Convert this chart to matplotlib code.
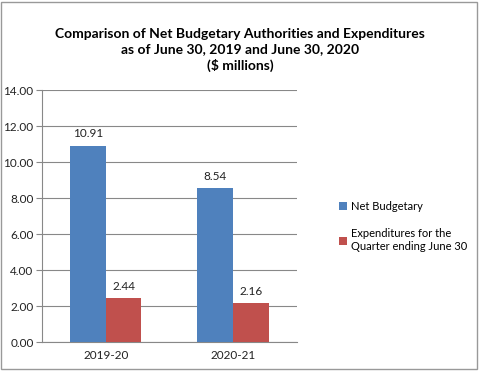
import numpy as np
import matplotlib.pyplot as plt

categories = ["2019-20", "2020-21"]
net_budgetary = [10.91, 8.54]
expenditures = [2.44, 2.16]
series_names = ["Net Budgetary", "Expenditures for the\nQuarter ending June 30"]
yticks = [0, 2, 4, 6, 8, 10, 12, 14]

plt.rcParams['font.family'] = ['Lato', 'DejaVu Sans']

fig = plt.figure(figsize=(4.8, 3.71), dpi=100)
ax = fig.add_axes([0.0875, 0.078, 0.531, 0.679])

x = np.arange(len(categories))
w = 0.28
blue, red = '#4f81bd', '#c0504d'
b1 = ax.bar(x - w / 2, net_budgetary, w, color=blue, label=series_names[0], zorder=3)
b2 = ax.bar(x + w / 2, expenditures, w, color=red, label=series_names[1], zorder=3)
for bars in (b1, b2):
    for rect in bars:
        h = rect.get_height()
        ax.text(rect.get_x() + rect.get_width() / 2, h + 0.35, f"{h:.2f}",
                ha='center', va='bottom', fontsize=8.5, color='#222222')

ax.set_xlim(-0.5, 1.5)
ax.set_ylim(0, 14)
ax.set_yticks(yticks)
ax.set_yticklabels([f"{v:.2f}" for v in yticks])
ax.set_xticks(x)
ax.set_xticklabels(categories)
ax.tick_params(axis='both', labelsize=8.5, colors='#222222', length=4)
ax.tick_params(axis='x', length=0, pad=6)
ax.tick_params(axis='y', color='#888888', pad=2)
ax.grid(axis='y', color='#888888', linewidth=0.8, zorder=0)
for s in ['top', 'right']:
    ax.spines[s].set_visible(False)
ax.spines['left'].set_color('#888888')
ax.spines['bottom'].set_color('#888888')

fig.text(0.5, 0.865, "Comparison of Net Budgetary Authorities and Expenditures\n"
         "as of June 30, 2019 and June 30, 2020\n($ millions)",
         ha='center', va='center', fontsize=10, fontweight='bold', linespacing=1.35)

fig.legend(handles=[b1, b2], loc='center left', bbox_to_anchor=(0.685, 0.39),
           frameon=False, fontsize=8, handlelength=0.7, handleheight=0.7,
           handletextpad=0.4, labelspacing=1.5)

fig.patches.append(plt.Rectangle((0.002, 0.005), 0.992, 0.99, transform=fig.transFigure,
                                 fill=False, edgecolor='#999999', linewidth=1))

fig.savefig('out.png', dpi=100)
